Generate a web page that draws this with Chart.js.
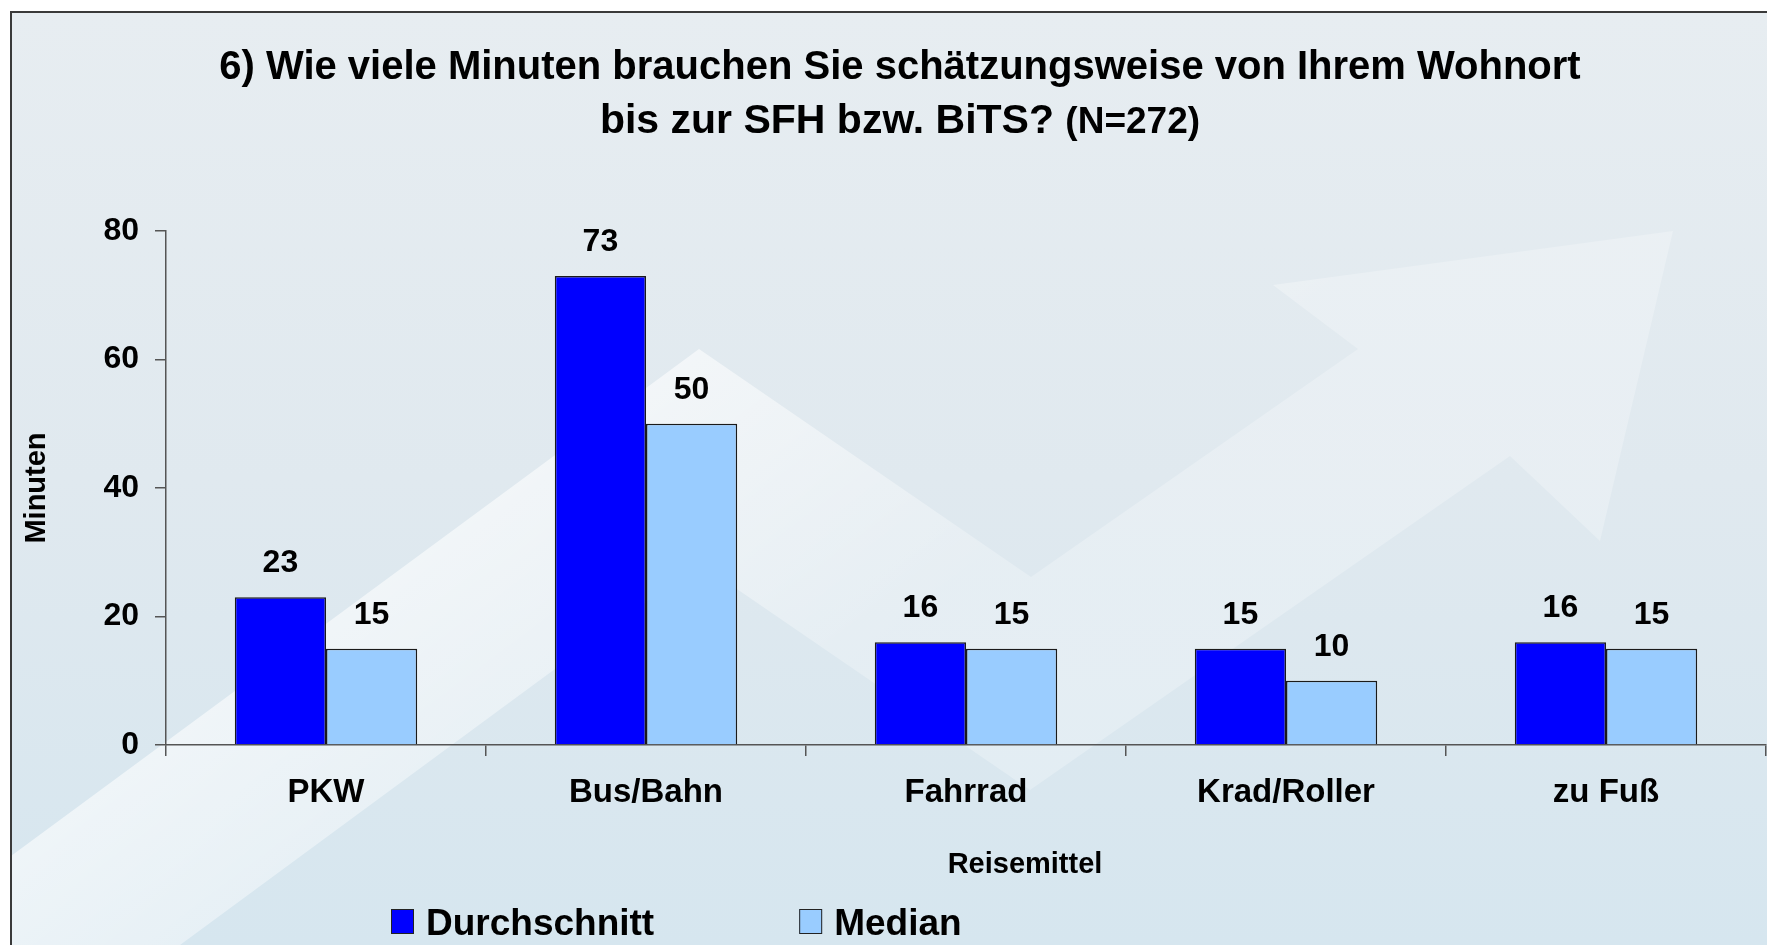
<!DOCTYPE html>
<html>
<head>
<meta charset="utf-8">
<script src="https://cdn.jsdelivr.net/npm/chart.js@4.4.0/dist/chart.umd.min.js"></script>
<style>
  html, body { margin: 0; padding: 0; background: #fff; }
  #wrap { width: 1767px; height: 945px; }
</style>
</head>
<body>
<div id="wrap"><canvas id="chart"></canvas></div>
<script>
// chart data
const titleLine1 = '6) Wie viele Minuten brauchen Sie schätzungsweise von Ihrem Wohnort';
const titleLine2 = 'bis zur SFH bzw. BiTS?';
const titleNote = '(N=272)';
const categories = ['PKW', 'Bus/Bahn', 'Fahrrad', 'Krad/Roller', 'zu Fuß'];
const durchschnitt = [23, 73, 16, 15, 16];
const median = [15, 50, 15, 10, 15];
const seriesNames = ['Durchschnitt', 'Median'];
const yTicks = [0, 20, 40, 60, 80];
const yTitle = 'Minuten';
const xTitle = 'Reisemittel';

const FONT = "'Liberation Sans', Arial, Helvetica, sans-serif";
Chart.defaults.font.family = FONT;
Chart.defaults.color = '#000';

// background panel with the light arrow shape
const backdrop = {
  id: 'backdrop',
  beforeDraw(chart) {
    const { ctx, width, height } = chart;
    ctx.save();
    ctx.fillStyle = '#fff';
    ctx.fillRect(0, 0, width, height);

    const g = ctx.createLinearGradient(0, 12, 0, height);
    g.addColorStop(0, '#e7edf1');
    g.addColorStop(0.5, '#e0e9ef');
    g.addColorStop(1, '#d6e6ef');
    ctx.fillStyle = g;
    ctx.fillRect(11, 12, width, height);

    // zig-zag arrow
    const pts = [[11, 856], [699, 349], [1031, 577], [1358, 349], [1273, 285], [1673, 231],
                 [1600, 541], [1510, 456], [1030, 790], [699, 563], [180, 945], [11, 945]];
    const ag = ctx.createLinearGradient(500, 300, 800, 700);
    ag.addColorStop(0, 'rgba(255,255,255,0.72)');
    ag.addColorStop(1, 'rgba(255,255,255,0.25)');
    ctx.beginPath();
    pts.forEach((p, i) => i ? ctx.lineTo(p[0], p[1]) : ctx.moveTo(p[0], p[1]));
    ctx.closePath();
    ctx.fillStyle = ag;
    ctx.fill();

    ctx.strokeStyle = '#3a3a3a';
    ctx.lineWidth = 2;
    ctx.strokeRect(11, 12, width + 20, height + 20);
    ctx.restore();
  }
};

// value labels above the bars
const valueLabels = {
  id: 'valueLabels',
  afterDatasetsDraw(chart) {
    const { ctx } = chart;
    ctx.save();
    ctx.font = 'bold 32px ' + FONT;
    ctx.fillStyle = '#000';
    ctx.textAlign = 'center';
    ctx.textBaseline = 'alphabetic';
    chart.data.datasets.forEach((ds, i) => {
      chart.getDatasetMeta(i).data.forEach((bar, j) => {
        ctx.fillText(String(ds.data[j]), bar.x, bar.y - 25);
      });
    });
    ctx.restore();
  }
};

// title, x axis title and legend
const decorations = {
  id: 'decorations',
  afterDraw(chart) {
    const { ctx } = chart;
    ctx.save();
    ctx.fillStyle = '#000';
    ctx.textBaseline = 'alphabetic';

    ctx.textAlign = 'center';
    ctx.font = 'bold 40px ' + FONT;
    ctx.fillText(titleLine1, 900, 79);

    ctx.textAlign = 'left';
    ctx.font = 'bold 41px ' + FONT;
    const w1 = ctx.measureText(titleLine2 + ' ').width;
    ctx.font = 'bold 37px ' + FONT;
    const w2 = ctx.measureText(titleNote).width;
    const x0 = 900 - (w1 + w2) / 2;
    ctx.font = 'bold 41px ' + FONT;
    ctx.fillText(titleLine2 + ' ', x0, 133);
    ctx.font = 'bold 37px ' + FONT;
    ctx.fillText(titleNote, x0 + w1, 133);

    ctx.textAlign = 'center';
    ctx.font = 'bold 29px ' + FONT;
    ctx.fillText(xTitle, 1025, 873);

    // legend
    ctx.textAlign = 'left';
    ctx.font = 'bold 37px ' + FONT;
    let x = 391;
    chart.data.datasets.forEach(ds => {
      ctx.fillStyle = ds.backgroundColor;
      ctx.fillRect(x, 909, 23, 25);
      ctx.strokeStyle = '#222';
      ctx.lineWidth = 1;
      ctx.strokeRect(x + 0.5, 909.5, 22, 24);
      ctx.fillStyle = '#000';
      ctx.fillText(ds.label, x + 35, 935);
      x += 35 + ctx.measureText(ds.label).width + 145;
    });
    ctx.restore();
  }
};

new Chart(document.getElementById('chart'), {
  type: 'bar',
  data: {
    labels: categories,
    datasets: [
      { label: seriesNames[0], data: durchschnitt, backgroundColor: '#0000ff',
        borderColor: '#1a1a1a', borderWidth: 1.5 },
      { label: seriesNames[1], data: median, backgroundColor: '#99ccff',
        borderColor: '#1a1a1a', borderWidth: 1.5 }
    ]
  },
  options: {
    responsive: true,
    maintainAspectRatio: false,
    animation: false,
    layout: { padding: { top: 231, right: 1, bottom: 0, left: 0 } },
    datasets: { bar: { categoryPercentage: 0.57, barPercentage: 1.0 } },
    plugins: {
      legend: { display: false },
      title: { display: false },
      tooltip: { enabled: false }
    },
    scales: {
      x: {
        afterFit: s => { s.height = 200; },
        grid: { offset: true, drawOnChartArea: false, tickLength: 11, color: '#555', lineWidth: 1.5 },
        border: { color: '#555', width: 1.5 },
        ticks: { font: { size: 33, weight: 'bold' }, color: '#000', padding: 17,
                 maxRotation: 0, autoSkip: false }
      },
      y: {
        min: yTicks[0],
        max: yTicks[yTicks.length - 1],
        afterFit: s => { s.width = 166; },
        afterBuildTicks: s => { s.ticks = yTicks.map(v => ({ value: v })); },
        grid: { drawOnChartArea: false, tickLength: 11, color: '#555', lineWidth: 1.5 },
        border: { color: '#555', width: 1.5 },
        ticks: { font: { size: 32, weight: 'bold' }, color: '#000', padding: 16 },
        title: { display: true, text: yTitle, font: { size: 29, weight: 'bold' },
                 color: '#000', padding: { top: 20 } }
      }
    }
  },
  plugins: [backdrop, valueLabels, decorations]
});
</script>
</body>
</html>
